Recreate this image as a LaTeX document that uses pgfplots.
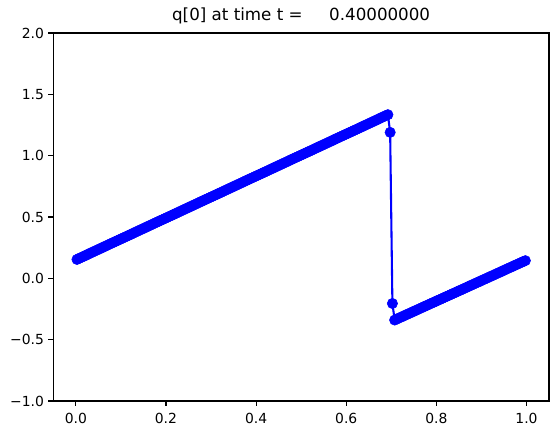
\documentclass[border=0pt]{standalone}
\usepackage{pgfplots}
\pgfplotsset{compat=1.18}
\usepackage{fontspec}
\setmainfont{DejaVu Sans}
\usetikzlibrary{calc}
\definecolor{mplblue}{rgb}{0,0,1}
\begin{document}
\begin{tikzpicture}
\begin{axis}[
  scale only axis,
  width=495.7pt, height=368pt,
  xmin=-0.05, xmax=1.05, ymin=-1, ymax=2,
  xtick={0,0.2,0.4,0.6,0.8,1.0},
  xticklabels={0.0,0.2,0.4,0.6,0.8,1.0},
  ytick={-1,-0.5,0,0.5,1,1.5,2},
  yticklabels={−1.0,−0.5,0.0,0.5,1.0,1.5,2.0},
  tick align=outside, tick pos=left,
  major tick length=4.9pt,
  every tick/.style={black, line width=1.1pt},
  axis line style={black, line width=1.1pt},
  every tick label/.append style={font=\fontsize{13.9}{16}\selectfont},
  every x tick label/.append style={yshift=-3.5pt},
  every y tick label/.append style={xshift=-1pt},
  title={q[0] at time t =\ \ \ \ \ 0.40000000},
  title style={font=\fontsize{16.7}{19}\selectfont, at={(0.5,1)}, anchor=south, yshift=-1pt},
]
\addplot[mplblue, line width=2.08pt, mark=*, mark size=5.2pt, mark options={fill=mplblue, draw=mplblue, line width=0.5pt}] coordinates {
(0.0025,0.154)(0.0075,0.163)(0.0125,0.171)(0.0175,0.180)(0.0225,0.188)(0.0275,0.197)(0.0325,0.206)(0.0375,0.214)(0.0425,0.223)(0.0475,0.231)
(0.0525,0.240)(0.0575,0.248)(0.0625,0.257)(0.0675,0.265)(0.0725,0.274)(0.0775,0.283)(0.0825,0.291)(0.0875,0.300)(0.0925,0.308)(0.0975,0.317)
(0.1025,0.325)(0.1075,0.334)(0.1125,0.342)(0.1175,0.351)(0.1225,0.359)(0.1275,0.368)(0.1325,0.377)(0.1375,0.385)(0.1425,0.394)(0.1475,0.402)
(0.1525,0.411)(0.1575,0.419)(0.1625,0.428)(0.1675,0.436)(0.1725,0.445)(0.1775,0.454)(0.1825,0.462)(0.1875,0.471)(0.1925,0.479)(0.1975,0.488)
(0.2025,0.496)(0.2075,0.505)(0.2125,0.513)(0.2175,0.522)(0.2225,0.530)(0.2275,0.539)(0.2325,0.548)(0.2375,0.556)(0.2425,0.565)(0.2475,0.573)
(0.2525,0.582)(0.2575,0.590)(0.2625,0.599)(0.2675,0.607)(0.2725,0.616)(0.2775,0.625)(0.2825,0.633)(0.2875,0.642)(0.2925,0.650)(0.2975,0.659)
(0.3025,0.667)(0.3075,0.676)(0.3125,0.684)(0.3175,0.693)(0.3225,0.701)(0.3275,0.710)(0.3325,0.719)(0.3375,0.727)(0.3425,0.736)(0.3475,0.744)
(0.3525,0.753)(0.3575,0.761)(0.3625,0.770)(0.3675,0.778)(0.3725,0.787)(0.3775,0.796)(0.3825,0.804)(0.3875,0.813)(0.3925,0.821)(0.3975,0.830)
(0.4025,0.838)(0.4075,0.847)(0.4125,0.855)(0.4175,0.864)(0.4225,0.872)(0.4275,0.881)(0.4325,0.890)(0.4375,0.898)(0.4425,0.907)(0.4475,0.915)
(0.4525,0.924)(0.4575,0.932)(0.4625,0.941)(0.4675,0.949)(0.4725,0.958)(0.4775,0.967)(0.4825,0.975)(0.4875,0.984)(0.4925,0.992)(0.4975,1.001)
(0.5025,1.009)(0.5075,1.018)(0.5125,1.026)(0.5175,1.035)(0.5225,1.043)(0.5275,1.052)(0.5325,1.061)(0.5375,1.069)(0.5425,1.078)(0.5475,1.086)
(0.5525,1.095)(0.5575,1.103)(0.5625,1.112)(0.5675,1.120)(0.5725,1.129)(0.5775,1.138)(0.5825,1.146)(0.5875,1.155)(0.5925,1.163)(0.5975,1.172)
(0.6025,1.180)(0.6075,1.189)(0.6125,1.197)(0.6175,1.206)(0.6225,1.214)(0.6275,1.223)(0.6325,1.232)(0.6375,1.240)(0.6425,1.249)(0.6475,1.257)
(0.6525,1.266)(0.6575,1.274)(0.6625,1.283)(0.6675,1.291)(0.6725,1.300)(0.6775,1.309)(0.6825,1.317)(0.6875,1.326)(0.6925,1.334)
(0.6975,1.190)(0.7025,-0.205)
(0.7075,-0.340)(0.7125,-0.332)(0.7175,-0.323)(0.7225,-0.315)(0.7275,-0.307)(0.7325,-0.298)(0.7375,-0.290)(0.7425,-0.282)(0.7475,-0.273)(0.7525,-0.265)
(0.7575,-0.257)(0.7625,-0.248)(0.7675,-0.240)(0.7725,-0.231)(0.7775,-0.223)(0.7825,-0.215)(0.7875,-0.206)(0.7925,-0.198)(0.7975,-0.190)(0.8025,-0.181)
(0.8075,-0.173)(0.8125,-0.165)(0.8175,-0.156)(0.8225,-0.148)(0.8275,-0.140)(0.8325,-0.131)(0.8375,-0.123)(0.8425,-0.115)(0.8475,-0.106)(0.8525,-0.098)
(0.8575,-0.090)(0.8625,-0.081)(0.8675,-0.073)(0.8725,-0.064)(0.8775,-0.056)(0.8825,-0.048)(0.8875,-0.039)(0.8925,-0.031)(0.8975,-0.023)(0.9025,-0.014)
(0.9075,-0.006)(0.9125,0.002)(0.9175,0.011)(0.9225,0.019)(0.9275,0.027)(0.9325,0.036)(0.9375,0.044)(0.9425,0.052)(0.9475,0.061)(0.9525,0.069)
(0.9575,0.078)(0.9625,0.086)(0.9675,0.094)(0.9725,0.103)(0.9775,0.111)(0.9825,0.119)(0.9875,0.128)(0.9925,0.136)(0.9975,0.144)
};
\end{axis}
\pgfresetboundingbox
\path ($(current axis.south west)+(-53.3pt,-34pt)$) rectangle ($(current axis.north east)+(10pt,33pt)$);
\end{tikzpicture}
\end{document}
